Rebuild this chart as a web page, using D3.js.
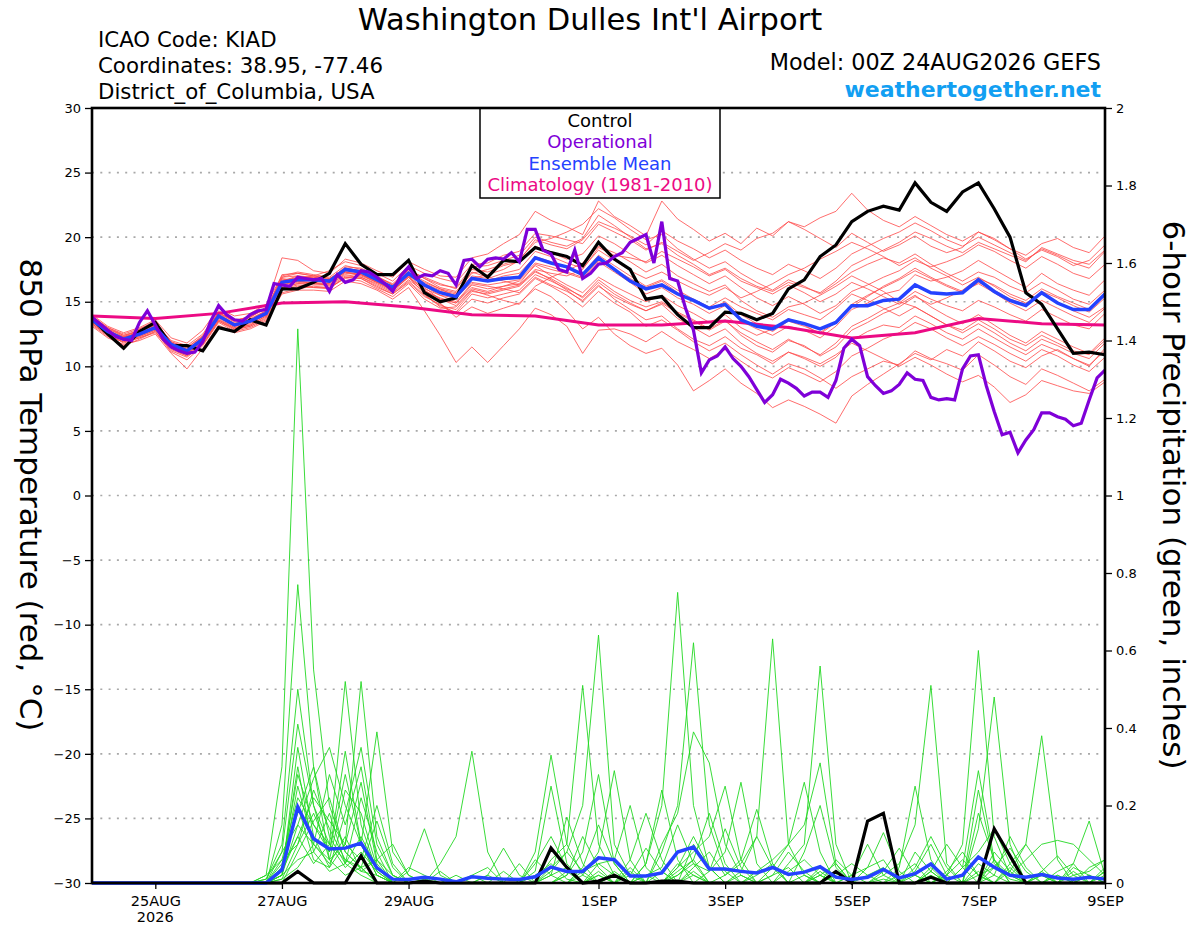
<!DOCTYPE html>
<html>
<head>
<meta charset="utf-8">
<script src="https://cdnjs.cloudflare.com/ajax/libs/d3/7.8.5/d3.min.js"></script>
<style>
body { margin: 0; background: #fff; }
svg { font-family: "DejaVu Sans", sans-serif; }
</style>
</head>
<body>
<svg id="chart" width="1200" height="927"></svg>
<script>
// 6-hourly steps from 00Z 24AUG2026 to 00Z 9SEP2026 (index 0..64)
var dayTickSteps = [4, 12, 20, 32, 40, 48, 56, 64];
var dayTickLabels = ["25AUG", "27AUG", "29AUG", "1SEP", "3SEP", "5SEP", "7SEP", "9SEP"];
var tempTicks = [-30, -25, -20, -15, -10, -5, 0, 5, 10, 15, 20, 25, 30];
var precipTicks = [0, 0.2, 0.4, 0.6, 0.8, 1, 1.2, 1.4, 1.6, 1.8, 2];

// 850 hPa temperature, control run (6-hourly)
var controlTemp = [13.7,12.5,11.4,12.7,13.4,11.6,11.6,11.2,13.0,12.7,
  13.6,13.2,16.0,16.0,16.5,17.2,19.5,17.9,17.1,17.1,
  18.2,15.7,15.0,15.3,17.8,16.9,18.2,18.1,19.2,18.8,
  18.5,17.8,19.6,18.3,17.5,15.2,15.4,14.0,13.0,13.0,
  14.2,14.1,13.6,14.1,16.0,16.7,18.5,19.4,21.2,22.0,
  22.4,22.1,24.2,22.7,22.0,23.5,24.2,22.2,20.0,15.7,
  14.8,12.9,11.0,11.1,10.9];

// ensemble mean temperature (6-hourly)
var meanTemp = [13.6,12.7,12.1,12.5,13.0,11.7,11.2,12.1,13.9,13.2,
  13.5,14.1,16.5,16.7,16.7,16.6,17.5,17.3,16.7,16.1,
  17.2,16.3,15.7,15.4,16.8,16.6,16.8,16.9,18.4,18.0,
  17.7,17.1,18.4,17.5,16.6,16.0,16.3,15.6,15.1,14.5,
  14.8,13.6,13.1,12.9,13.6,13.3,12.9,13.4,14.7,14.7,
  15.1,15.2,16.3,15.7,15.6,15.7,16.7,15.8,15.1,14.7,
  15.7,14.9,14.4,14.4,15.6];

// operational run temperature (3-hourly, index 0..128)
var operTemp = [13.8,13.3,12.8,12.3,12.1,12.0,13.4,14.3,13.2,12.1,
  11.5,11.2,11.0,11.1,11.9,13.5,14.7,14.0,13.6,13.5,
  14.0,14.3,14.4,16.4,16.3,16.2,16.9,16.8,16.7,16.8,
  15.8,17.1,16.5,16.7,17.4,17.3,16.9,16.4,15.8,17.0,
  17.7,16.8,17.1,17.0,17.4,17.2,16.3,18.2,18.3,17.7,
  18.3,18.4,18.3,18.8,18.1,20.6,20.6,19.0,18.7,17.5,
  17.3,19.0,16.8,17.2,17.9,18.0,18.5,18.8,19.6,19.9,
  20.2,18.0,21.2,16.8,16.6,14.5,12.8,9.5,10.5,10.8,
  11.5,10.6,10.0,9.2,8.2,7.2,7.8,9.0,8.7,8.3,
  7.7,8.0,8.0,7.6,8.9,11.4,12.1,11.6,9.2,8.5,
  7.9,8.1,8.6,9.5,9.0,8.9,7.6,7.4,7.5,7.4,
  9.8,10.8,10.9,8.5,6.5,4.7,4.9,3.3,4.3,5.1,
  6.4,6.4,6.1,5.9,5.4,5.6,7.4,9.1,9.7];

// climatology (1981-2010), daily at 00Z
var climTemp = [13.9,13.7,14.1,14.9,15.0,14.6,14.0,13.9,13.2,13.2,13.5,13.0,12.2,12.6,13.7,13.3,13.2];

// ensemble members, temperature (6-hourly)
var tempMembers = [
  [13.8,12.9,12.0,12.9,13.5,11.9,11.5,12.3,14.2,13.5,13.9,14.4,16.9,17.2,17.0,17.4,18.1,17.8,17.2,16.6,17.8,17.2,16.8,16.5,17.9,18.0,18.6,18.9,20.3,20.1,19.8,19.5,21.0,20.4,19.8,19.0,19.6,18.9,18.2,18.8,19.5,19.0,19.9,20.3,21.2,20.8,21.5,22.0,23.4,22.1,21.3,20.8,21.6,20.9,20.2,19.7,20.4,19.8,19.1,18.6,19.5,19.9,19.2,18.8,20.1],
  [13.4,12.5,11.8,12.2,12.6,11.3,10.8,11.7,13.5,12.9,13.1,13.7,16.0,16.3,16.1,16.0,16.9,16.8,16.2,15.6,16.5,15.4,14.8,14.1,15.2,14.9,15.3,15.6,16.8,16.2,15.5,14.6,15.8,14.9,14.2,13.1,13.6,12.8,11.9,11.2,11.8,10.9,10.1,9.4,10.2,9.8,9.1,8.3,9.2,9.8,10.4,10.1,11.2,10.6,10.2,9.7,10.9,10.1,9.2,8.6,9.8,9.3,8.7,8.1,9.0],
  [13.5,12.6,12.3,12.4,13.1,11.5,10.9,12.0,13.7,13.0,13.3,14.0,16.2,16.4,16.5,16.2,17.0,16.9,16.4,15.8,16.9,15.9,14.9,13.8,14.6,14.1,14.5,14.9,16.0,15.4,14.3,12.9,13.8,12.5,11.6,11.0,11.4,10.1,8.1,8.9,9.8,8.7,7.9,6.8,7.4,6.9,6.3,5.6,7.7,8.6,9.4,10.2,11.0,10.5,11.3,10.8,11.9,11.2,10.4,9.9,10.8,11.3,10.6,10.0,11.4],
  [13.9,13.0,12.4,12.8,13.3,12.0,11.6,12.5,14.3,13.6,13.8,14.6,18.4,18.2,17.4,17.2,18.3,18.0,17.4,16.9,18.1,17.5,17.0,16.9,18.4,18.7,19.5,20.2,22.0,21.3,20.8,20.2,22.8,21.6,20.9,20.1,22.8,21.4,20.6,19.7,20.3,19.5,20.7,20.1,21.2,20.6,19.9,19.2,20.3,19.6,18.9,19.4,20.1,19.3,18.8,19.2,20.4,19.9,19.1,18.3,19.0,18.5,17.8,18.2,19.4],
  [13.7,12.8,12.2,12.6,13.0,11.8,11.3,12.2,14.0,13.3,13.6,14.2,16.6,16.9,16.8,16.5,17.6,17.4,16.8,16.2,17.3,16.1,15.2,14.9,16.3,16.0,16.2,16.4,17.9,17.5,17.2,16.8,18.1,17.3,16.5,15.6,16.1,15.3,14.8,14.1,14.7,13.5,12.9,12.4,13.1,12.8,12.2,13.1,14.4,14.9,15.6,15.9,17.1,16.6,16.9,17.4,18.2,17.5,16.8,16.1,17.2,16.4,15.9,15.5,16.7],
  [13.3,12.4,11.6,12.1,12.7,11.1,10.5,11.6,13.4,12.7,13.0,13.6,15.7,16.0,16.2,16.1,16.8,16.6,16.0,15.4,16.4,15.2,14.5,14.6,15.9,15.5,15.1,14.8,16.2,16.9,17.4,18.0,19.3,18.8,18.1,17.3,17.9,17.0,16.4,15.8,16.3,15.1,14.3,13.8,14.6,14.9,15.5,16.2,17.0,16.4,15.8,15.0,14.6,13.9,13.2,12.8,13.6,12.9,12.1,11.6,12.4,11.8,11.2,10.9,12.0],
  [14.0,13.1,12.6,13.0,13.6,12.2,11.8,12.8,14.5,13.9,14.1,14.8,17.0,17.3,17.1,16.9,17.8,17.5,16.9,16.4,17.5,16.8,16.1,15.8,17.2,17.5,17.9,18.3,19.6,19.9,20.4,21.0,22.2,21.5,20.6,19.8,20.2,19.1,18.3,17.6,18.1,17.2,16.5,15.9,16.7,16.2,15.6,16.4,17.3,17.9,18.4,18.0,18.7,17.9,17.2,16.6,17.3,16.9,16.2,15.7,16.5,15.9,15.2,14.8,15.9],
  [13.2,12.3,11.9,12.3,12.8,11.4,10.9,11.9,13.6,13.0,13.2,13.9,16.3,16.5,16.4,16.3,17.2,17.1,16.5,15.9,16.9,15.6,14.6,14.2,15.6,15.3,15.6,15.9,17.1,16.6,16.0,15.4,16.7,15.8,15.1,14.6,15.0,14.2,13.6,12.9,13.6,12.4,11.6,11.1,12.0,11.6,10.8,11.5,12.8,13.4,14.1,14.6,15.4,14.8,15.3,15.9,16.8,16.3,15.6,15.1,16.0,15.4,14.9,14.4,15.5],
  [13.6,12.7,12.2,12.7,13.2,11.6,11.0,12.0,13.8,13.1,13.4,14.1,16.5,16.8,17.0,16.8,17.4,17.2,16.6,16.0,17.1,16.5,16.0,15.7,17.0,16.8,17.2,17.5,18.9,18.5,18.0,17.6,19.0,18.2,17.4,16.8,17.3,16.6,16.0,15.5,16.1,15.3,15.8,16.4,17.1,17.6,18.3,18.9,19.6,19.1,18.5,17.8,18.4,17.6,17.0,16.3,16.9,16.2,15.4,14.9,15.6,15.0,14.3,13.8,14.6],
  [13.5,12.8,12.1,12.4,12.9,11.6,11.1,12.1,14.0,13.2,13.5,14.2,16.8,16.6,16.5,16.4,17.3,17.0,16.5,16.2,17.2,16.2,15.5,15.0,16.4,16.2,16.0,15.7,16.9,16.3,15.8,15.1,16.3,15.2,14.4,13.6,13.9,12.9,12.1,11.6,12.3,11.4,10.9,10.2,11.1,10.6,10.0,10.7,12.0,12.7,13.2,13.0,13.9,13.3,12.6,12.1,12.9,12.2,11.5,10.9,11.7,11.2,10.6,10.1,11.2],
  [13.8,13.0,12.5,12.9,13.4,11.9,11.4,12.4,14.1,13.5,13.8,14.5,16.6,17.0,16.9,16.7,17.7,17.6,17.0,16.3,17.4,16.9,16.4,16.0,17.5,17.3,17.8,18.1,19.3,18.8,18.3,18.7,20.1,19.5,18.7,18.0,18.6,17.8,17.1,16.4,17.0,16.1,15.3,14.7,15.4,14.8,14.1,14.7,15.8,16.3,16.9,17.4,18.2,17.7,18.1,18.6,19.4,18.9,18.2,17.6,18.5,17.9,17.2,16.8,17.9],
  [13.4,12.5,12.0,12.3,12.8,11.4,10.8,11.8,13.6,12.9,13.2,13.9,16.1,16.4,16.3,16.3,17.1,16.9,16.3,15.7,16.7,15.8,15.3,14.9,16.1,15.8,16.2,16.6,17.8,17.0,16.3,15.7,16.9,16.2,15.6,15.0,15.5,14.7,14.1,13.4,14.0,13.0,12.4,12.9,13.7,13.2,12.5,13.4,14.6,15.4,16.2,16.8,17.6,16.9,16.3,15.8,16.4,15.7,14.9,14.3,15.1,14.5,13.9,13.4,14.5],
  [13.9,12.9,12.3,12.8,13.2,11.7,11.3,12.3,14.2,13.4,13.7,14.3,17.1,17.2,17.0,16.8,17.6,17.3,16.7,16.1,17.2,16.6,16.0,15.4,16.8,17.1,17.5,18.2,19.8,19.4,19.1,19.8,21.2,20.7,20.1,19.4,20.5,19.7,19.1,18.4,19.0,18.2,17.6,17.1,17.9,17.4,16.8,17.6,18.7,19.3,19.9,20.4,21.1,20.5,19.8,19.3,20.0,19.4,18.8,18.2,19.1,18.6,18.0,17.6,18.9],
  [13.1,12.2,11.7,12.0,12.5,11.0,9.8,11.4,13.2,12.6,12.9,13.5,15.6,15.9,15.9,15.8,16.6,16.4,15.9,15.2,16.1,14.3,12.4,10.3,11.5,10.3,11.6,12.9,14.5,14.0,13.1,11.0,12.8,12.9,12.5,11.9,12.7,11.9,11.3,10.6,11.3,10.4,9.6,9.1,9.9,9.4,8.8,9.6,10.8,11.4,12.1,12.6,13.4,12.9,12.2,11.6,12.3,11.7,11.0,10.4,11.3,10.8,10.1,9.6,10.7],
  [13.7,12.6,12.1,12.6,13.1,11.8,11.3,12.1,13.9,13.3,13.6,14.2,16.4,16.7,16.6,16.6,17.5,17.3,16.7,16.0,17.2,16.3,15.8,15.5,16.8,16.6,17.0,17.2,18.5,18.1,17.6,17.2,18.6,17.8,17.0,16.2,16.7,15.9,15.2,14.6,15.3,14.6,14.1,13.6,14.4,14.0,13.6,14.5,15.6,15.1,14.5,13.9,14.6,13.9,13.2,12.6,13.3,12.6,11.8,11.2,12.1,11.6,11.0,10.6,11.8],
  [13.6,12.8,12.2,12.5,13.0,11.6,11.1,12.2,13.9,13.2,13.5,14.0,16.7,16.8,16.9,16.7,17.5,17.2,16.6,15.9,17.0,16.4,15.9,15.6,17.3,16.9,16.6,16.3,17.5,17.2,17.0,17.5,19.2,18.6,18.4,18.1,18.9,18.3,17.7,17.0,17.5,16.6,16.1,15.6,16.3,15.7,15.0,15.6,16.5,16.0,15.4,14.8,15.5,14.6,13.9,13.3,14.0,13.2,12.4,11.8,12.7,12.1,11.5,11.0,12.2],
  [13.5,12.6,12.1,12.4,12.9,11.5,11.0,11.9,13.8,13.1,13.4,14.0,16.4,16.6,16.7,16.5,17.3,17.1,16.5,15.9,16.9,15.9,15.2,14.7,16.0,15.7,16.0,16.3,17.4,16.7,15.9,15.0,16.2,15.4,14.8,14.3,14.9,14.1,13.5,12.8,13.5,12.6,11.9,11.3,12.1,11.5,10.9,11.8,13.1,13.7,14.4,14.9,15.8,15.2,14.7,14.3,15.1,14.6,14.0,13.5,14.4,13.8,13.2,12.9,14.1],
  [13.3,12.4,11.9,12.2,12.7,11.2,10.7,11.7,13.5,12.8,13.1,13.8,15.9,16.2,16.1,16.1,16.9,16.8,16.1,15.6,16.6,15.5,14.7,14.4,15.8,15.6,15.9,16.2,17.3,16.8,16.1,15.3,16.5,15.6,14.9,14.3,14.8,13.7,13.0,12.3,12.9,11.8,11.0,10.4,11.1,10.7,10.2,10.9,11.8,11.2,10.6,10.0,10.7,10.1,9.4,8.8,9.3,8.4,7.2,7.8,8.9,8.5,8.1,7.9,8.8],
  [13.8,12.9,12.4,12.7,13.2,11.8,11.2,12.3,14.1,13.3,13.6,14.3,16.9,17.0,16.8,16.7,17.6,17.4,16.9,16.3,17.5,16.8,16.3,16.1,17.7,17.8,18.2,18.6,20.0,19.6,19.3,19.9,21.7,20.9,20.0,19.1,19.5,18.6,17.9,17.1,17.6,16.8,16.2,15.8,16.5,16.1,15.7,16.6,17.8,18.4,19.0,19.6,20.4,19.9,19.3,18.8,19.6,19.1,18.6,18.1,19.2,18.7,18.2,17.9,19.0],
  [13.6,12.7,12.3,12.6,13.1,11.7,11.2,12.0,13.8,13.2,13.5,14.1,16.3,16.6,16.4,16.4,17.3,17.1,16.6,16.1,17.0,16.0,15.5,15.3,16.5,16.3,16.5,16.7,18.0,17.7,17.3,16.9,18.2,17.5,16.8,16.1,16.6,15.7,15.1,14.4,15.0,14.0,13.3,12.7,13.5,13.1,12.6,13.5,14.8,15.5,16.1,16.7,17.4,16.8,16.2,15.7,16.5,15.9,15.2,14.8,15.8,15.3,14.7,14.2,15.3]
];

// 6-hour precipitation (inches), control and ensemble mean
var controlPrecip = [0,0,0,0,0,0,0,0,0,0,
  0,0,0,0.03,0,0,0,0.07,0,0,
  0,0.005,0,0,0,0,0,0,0,0.09,
  0.04,0,0.005,0.02,0,0,0.005,0.005,0,0,
  0,0,0,0,0,0,0,0.03,0,0.16,
  0.18,0,0,0.015,0,0,0,0.14,0.07,0,
  0,0,0,0,0];
var meanPrecip = [0,0,0,0,0,0,0,0,0,0,
  0,0,0.034,0.196,0.114,0.088,0.09,0.103,0.039,0.01,
  0.009,0.015,0.01,0.003,0.016,0.012,0.01,0.009,0.016,0.041,
  0.03,0.03,0.065,0.06,0.018,0.018,0.026,0.08,0.093,0.036,
  0.036,0.03,0.026,0.04,0.022,0.028,0.042,0.015,0.009,0.015,
  0.035,0.013,0.024,0.049,0.01,0.02,0.067,0.041,0.02,0.015,
  0.022,0.013,0.01,0.015,0.01];

// ensemble members, precipitation (6-hourly)
var precipMembers = [
  [0,0,0,0,0,0,0,0,0,0, 0,0.02,0.3,1.43,0.55,0.2,0.08,0.04,0,0, 0,0.01,0,0,0,0,0,0,0.02,0.05, 0.01,0,0.03,0,0,0.05,0.2,0.75,0.2,0.04, 0,0,0.02,0.05,0,0,0.03,0,0,0, 0.01,0,0.03,0.1,0.02,0,0,0.04,0.01,0, 0,0.02,0,0,0],
  [0,0,0,0,0,0,0,0,0,0, 0,0,0.15,0.77,0.3,0.06,0.1,0.52,0.12,0.02, 0,0,0,0.02,0,0,0,0,0,0.04, 0.08,0.2,0.64,0.1,0.02,0,0,0.03,0.06,0, 0,0.02,0,0,0.05,0.1,0.56,0.1,0,0, 0,0,0,0.02,0,0,0.05,0.02,0,0, 0.03,0,0,0,0],
  [0,0,0,0,0,0,0,0,0,0, 0,0.01,0.08,0.41,0.2,0.1,0.52,0.15,0.03,0, 0,0,0.05,0.12,0.34,0.08,0,0,0,0, 0,0.03,0.05,0.02,0,0,0.08,0.2,0.62,0.15, 0.03,0,0,0,0,0.02,0,0,0,0.02, 0.04,0,0,0,0.02,0.1,0.6,0.12,0.02,0, 0,0,0.03,0,0],
  [0,0,0,0,0,0,0,0,0,0, 0,0,0.08,0.15,0.27,0.35,0.2,0.1,0.39,0.08, 0.02,0,0,0,0,0,0.03,0,0,0.06, 0.1,0.51,0.1,0.02,0,0,0,0,0.04,0.08, 0.02,0.05,0.12,0.63,0.1,0.02,0,0,0,0, 0,0.02,0.05,0,0,0,0,0.08,0.03,0, 0,0,0,0.02,0],
  [0,0,0,0,0,0,0,0,0,0, 0,0,0.03,0.25,0.1,0.28,0.15,0.3,0.06,0, 0,0,0,0,0.02,0,0,0,0.08,0.33, 0.1,0.02,0,0,0.04,0,0,0.05,0.02,0, 0,0,0,0,0.03,0.06,0.02,0,0,0, 0.02,0.05,0.15,0.51,0.05,0,0,0,0.04,0, 0,0,0,0,0.03],
  [0,0,0,0,0,0,0,0,0,0, 0,0,0.05,0.18,0.3,0.12,0.05,0.22,0.08,0, 0,0,0,0,0,0.02,0,0,0.03,0.25, 0.05,0,0,0.03,0,0,0.1,0.18,0.39,0.31, 0.1,0.02,0,0,0,0,0.04,0,0,0, 0,0,0,0.03,0,0,0.14,0.48,0.1,0, 0,0.02,0,0,0],
  [0,0,0,0,0,0,0,0,0,0, 0,0.02,0.06,0.22,0.15,0.08,0.28,0.1,0.02,0, 0.03,0.14,0.02,0,0,0,0,0,0,0, 0.02,0.08,0.28,0.05,0,0.02,0,0,0.1,0.04, 0,0,0,0.04,0.1,0.15,0.31,0.05,0,0, 0,0,0,0,0.02,0.06,0.02,0,0.03,0.1, 0.38,0.06,0,0,0],
  [0,0,0,0,0,0,0,0,0,0, 0,0,0.04,0.12,0.22,0.16,0.1,0.06,0.2,0.05, 0,0,0,0,0,0,0,0,0,0.02, 0.17,0.05,0,0.02,0,0,0,0.04,0.08,0.12, 0.25,0.06,0,0,0,0,0,0,0.02,0.04, 0.06,0,0,0,0,0.04,0.29,0.06,0,0, 0,0,0.05,0.16,0.02],
  [0,0,0,0,0,0,0,0,0,0, 0,0,0.02,0.15,0.1,0.06,0.24,0.18,0.04,0, 0,0,0,0,0,0.02,0.09,0.02,0,0, 0,0.02,0.08,0.29,0.06,0,0,0,0,0.03, 0.08,0.26,0.05,0,0,0,0.02,0,0,0, 0,0.04,0.25,0.06,0,0,0.03,0,0,0, 0.02,0,0,0,0.04],
  [0,0,0,0,0,0,0,0,0,0, 0,0,0.03,0.3,0.08,0.18,0.05,0.12,0.04,0, 0,0,0,0,0,0,0,0,0,0, 0.03,0,0.05,0.06,0.2,0.04,0,0,0.02,0, 0,0,0.03,0.06,0.1,0.26,0.08,0,0,0, 0,0,0,0.04,0,0,0.24,0.05,0.02,0.06, 0.1,0.11,0.1,0.06,0.02],
  [0,0,0,0,0,0,0,0,0,0, 0,0,0.01,0.1,0.18,0.08,0.34,0.1,0.02,0, 0,0,0.03,0,0,0,0,0,0,0, 0,0,0.02,0,0.06,0.18,0.06,0,0,0, 0.02,0.06,0.19,0.05,0,0,0,0,0,0.04, 0.13,0.03,0,0,0,0,0,0.06,0.02,0, 0,0,0,0.04,0.06],
  [0,0,0,0,0,0,0,0,0,0, 0,0,0.02,0.35,0.12,0.04,0.1,0.26,0.05,0, 0,0,0,0,0,0,0,0,0,0.02, 0.04,0,0,0.02,0,0.05,0.24,0.06,0,0, 0,0,0,0,0,0.08,0.2,0.04,0,0, 0,0,0.02,0,0.03,0.08,0.02,0,0,0, 0,0.03,0.05,0,0],
  [0,0,0,0,0,0,0,0,0,0, 0,0,0.06,0.1,0.24,0.14,0.06,0.04,0.16,0.04, 0,0,0,0,0,0,0,0,0.06,0.02, 0,0,0,0,0,0.02,0.04,0.15,0.05,0, 0,0,0,0.02,0.04,0,0,0,0.02,0.1, 0.02,0,0,0,0,0,0,0.02,0.12,0.04, 0,0,0,0.02,0],
  [0,0,0,0,0,0,0,0,0,0, 0,0,0.02,0.2,0.06,0.04,0.18,0.35,0.1,0.02, 0,0,0,0,0,0,0,0,0,0, 0.02,0.12,0.04,0,0,0,0,0.02,0.06,0.18, 0.05,0,0,0,0,0,0.02,0.05,0,0, 0,0,0.04,0.12,0.04,0,0,0,0,0, 0.02,0,0,0,0],
  [0,0,0,0,0,0,0,0,0,0, 0,0,0,0.08,0.16,0.22,0.08,0.04,0.06,0.1, 0.02,0,0,0,0,0,0,0.05,0,0, 0,0,0,0,0.03,0,0,0.04,0.12,0.04, 0,0,0,0,0,0,0,0,0,0, 0.03,0.09,0.02,0,0,0,0,0,0.05,0.1, 0.04,0,0,0,0.03],
  [0,0,0,0,0,0,0,0,0,0, 0,0,0.02,0.06,0.08,0.03,0.05,0.02,0,0, 0.04,0.02,0,0,0,0,0,0,0,0, 0,0,0.02,0,0,0,0.03,0,0,0, 0,0,0,0.02,0.08,0.03,0,0,0,0, 0,0,0,0,0,0.04,0.08,0.14,0.05,0, 0,0,0.02,0.03,0.06],
  [0,0,0,0,0,0,0,0,0,0, 0,0.01,0.1,0.5,0.2,0.06,0.02,0.04,0,0, 0,0,0,0,0,0,0,0,0,0.03, 0.08,0.03,0,0,0,0,0,0,0.03,0, 0,0,0,0,0,0,0,0.02,0.05,0.02, 0,0,0,0,0,0,0.18,0.06,0,0, 0,0,0,0,0],
  [0,0,0,0,0,0,0,0,0,0, 0,0,0.03,0.12,0.05,0.1,0.04,0.08,0.03,0, 0,0,0,0,0.02,0.04,0,0,0,0, 0,0,0,0,0.02,0.09,0.03,0,0,0, 0,0,0,0,0,0,0,0.06,0.02,0, 0,0,0,0.03,0.1,0.04,0,0,0,0, 0,0,0.04,0.02,0],
  [0,0,0,0,0,0,0,0,0,0, 0,0,0.01,0.04,0.1,0.05,0.12,0.03,0.06,0.02, 0,0,0,0,0,0,0,0,0,0, 0,0.04,0.15,0.05,0,0,0,0,0,0, 0,0.03,0.12,0.04,0,0,0,0,0,0, 0,0,0,0,0,0,0.02,0.04,0.09,0.03, 0,0,0,0,0.02],
  [0,0,0,0,0,0,0,0,0,0, 0,0,0.04,0.28,0.15,0.1,0.06,0.03,0.02,0, 0,0,0,0,0,0,0,0,0.05,0.12, 0.04,0,0,0,0,0,0,0.02,0.05,0.03, 0.14,0.04,0,0,0,0,0,0,0,0, 0,0,0.08,0.03,0,0,0,0,0,0, 0.03,0.07,0.02,0,0]
];

var svg = d3.select("#chart");
var plotLeft = 92, plotRight = 1105, plotTop = 108, plotBottom = 883;

var x = d3.scaleLinear().domain([0, 64]).range([plotLeft, plotRight]);
var yT = d3.scaleLinear().domain([-30, 30]).range([plotBottom, plotTop]);
var yP = d3.scaleLinear().domain([0, 2]).range([plotBottom, plotTop]);

//dotted grid on the temperature ticks
svg.append("g").selectAll("line")
  .data(tempTicks.filter(function(t){ return t > -30 && t < 30; }))
  .enter().append("line")
    .attr("x1", plotLeft).attr("x2", plotRight)
    .attr("y1", function(d){ return yT(d); })
    .attr("y2", function(d){ return yT(d); })
    .attr("stroke", "#a8a8a8")
    .attr("stroke-width", 1.6)
    .attr("stroke-dasharray", "2,6.3");

var lineT = d3.line().x(function(d, i){ return x(i); }).y(function(d){ return yT(d); });
var lineP = d3.line().x(function(d, i){ return x(i); }).y(function(d){ return yP(d); });
var lineOper = d3.line().x(function(d, i){ return x(i / 2); }).y(function(d){ return yT(d); });
var lineClim = d3.line().x(function(d, i){ return x(i * 4); }).y(function(d){ return yT(d); });

svg.append("g").selectAll("path")
  .data(tempMembers)
  .enter().append("path")
    .attr("d", lineT)
    .attr("fill", "none")
    .attr("stroke", "#ff4a4a")
    .attr("stroke-opacity", 0.9)
    .attr("stroke-width", 0.9);

svg.append("g").selectAll("path")
  .data(precipMembers)
  .enter().append("path")
    .attr("d", lineP)
    .attr("fill", "none")
    .attr("stroke", "#22d822")
    .attr("stroke-width", 0.9);

function thick(d, gen, color, w){
  svg.append("path")
    .datum(d)
    .attr("d", gen)
    .attr("fill", "none")
    .attr("stroke", color)
    .attr("stroke-width", w)
    .attr("stroke-linejoin", "miter");
}

thick(climTemp, lineClim, "#ec0a84", 3);
thick(controlTemp, lineT, "#000000", 3.2);
thick(controlPrecip, lineP, "#000000", 3.2);
thick(meanTemp, lineT, "#2442ff", 3.5);
thick(meanPrecip, lineP, "#2442ff", 3.5);
thick(operTemp, lineOper, "#7f00d8", 3.2);

// legend
var legend = svg.append("g");
legend.append("rect")
  .attr("x", 480).attr("y", plotTop).attr("width", 240).attr("height", 90)
  .attr("fill", "#fff").attr("stroke", "#000").attr("stroke-width", 1.5);
var legendItems = [["Control", "#000000"], ["Operational", "#7f00d8"],
                   ["Ensemble Mean", "#2442ff"], ["Climatology (1981-2010)", "#ec0a84"]];
legend.selectAll("text")
  .data(legendItems)
  .enter().append("text")
    .attr("x", 600)
    .attr("y", function(d, i){ return 127 + i * 21.3; })
    .attr("text-anchor", "middle")
    .attr("font-size", "18px")
    .attr("fill", function(d){ return d[1]; })
    .text(function(d){ return d[0]; });

// frame
svg.append("rect")
  .attr("x", plotLeft).attr("y", plotTop)
  .attr("width", plotRight - plotLeft).attr("height", plotBottom - plotTop)
  .attr("fill", "none").attr("stroke", "#000").attr("stroke-width", 2.6);

// axes
var axL = svg.append("g").attr("transform", "translate(" + plotLeft + ",0)")
  .call(d3.axisLeft(yT).tickValues(tempTicks).tickSize(7).tickPadding(4).tickSizeOuter(0));
var axR = svg.append("g").attr("transform", "translate(" + plotRight + ",0)")
  .call(d3.axisRight(yP).tickValues(precipTicks).tickFormat(d3.format("~g")).tickSize(7).tickPadding(4).tickSizeOuter(0));
var axB = svg.append("g").attr("transform", "translate(0," + plotBottom + ")")
  .call(d3.axisBottom(x).tickValues(dayTickSteps)
    .tickFormat(function(d, i){ return dayTickLabels[i]; })
    .tickSize(6).tickPadding(7).tickSizeOuter(0));

[axL, axR, axB].forEach(function(a){
  a.select(".domain").remove();
  a.attr("font-family", "DejaVu Sans, sans-serif").attr("font-size", 13);
  a.selectAll("line").attr("stroke", "#000").attr("stroke-width", 1.3);
  a.selectAll("text").attr("fill", "#000");
});
axB.attr("font-size", 14.5);

svg.append("text")
  .attr("x", x(dayTickSteps[0])).attr("y", 922)
  .attr("text-anchor", "middle").attr("font-size", "14.5px")
  .text("2026");

// titles
svg.append("text").attr("x", 590).attr("y", 30)
  .attr("text-anchor", "middle").attr("font-size", "30.5px")
  .text("Washington Dulles Int'l Airport");

var info = ["ICAO Code: KIAD", "Coordinates: 38.95, -77.46", "District_of_Columbia, USA"];
svg.append("g").selectAll("text")
  .data(info)
  .enter().append("text")
    .attr("x", 98)
    .attr("y", function(d, i){ return 47 + i * 26; })
    .attr("font-size", "21.3px")
    .text(function(d){ return d; });

svg.append("text").attr("x", 1101).attr("y", 70)
  .attr("text-anchor", "end").attr("font-size", "22.3px")
  .text("Model: 00Z 24AUG2026 GEFS");
svg.append("text").attr("x", 1101).attr("y", 97)
  .attr("text-anchor", "end").attr("font-size", "22px")
  .attr("font-weight", "bold").attr("fill", "#129ff2")
  .text("weathertogether.net");

svg.append("text")
  .attr("transform", "translate(20,495) rotate(90)")
  .attr("text-anchor", "middle").attr("font-size", "31px")
  .text("850 hPa Temperature (red, \u00B0C)");
svg.append("text")
  .attr("transform", "translate(1163,495) rotate(90)")
  .attr("text-anchor", "middle").attr("font-size", "31px")
  .text("6-hour Precipitation (green, inches)");
</script>
</body>
</html>
